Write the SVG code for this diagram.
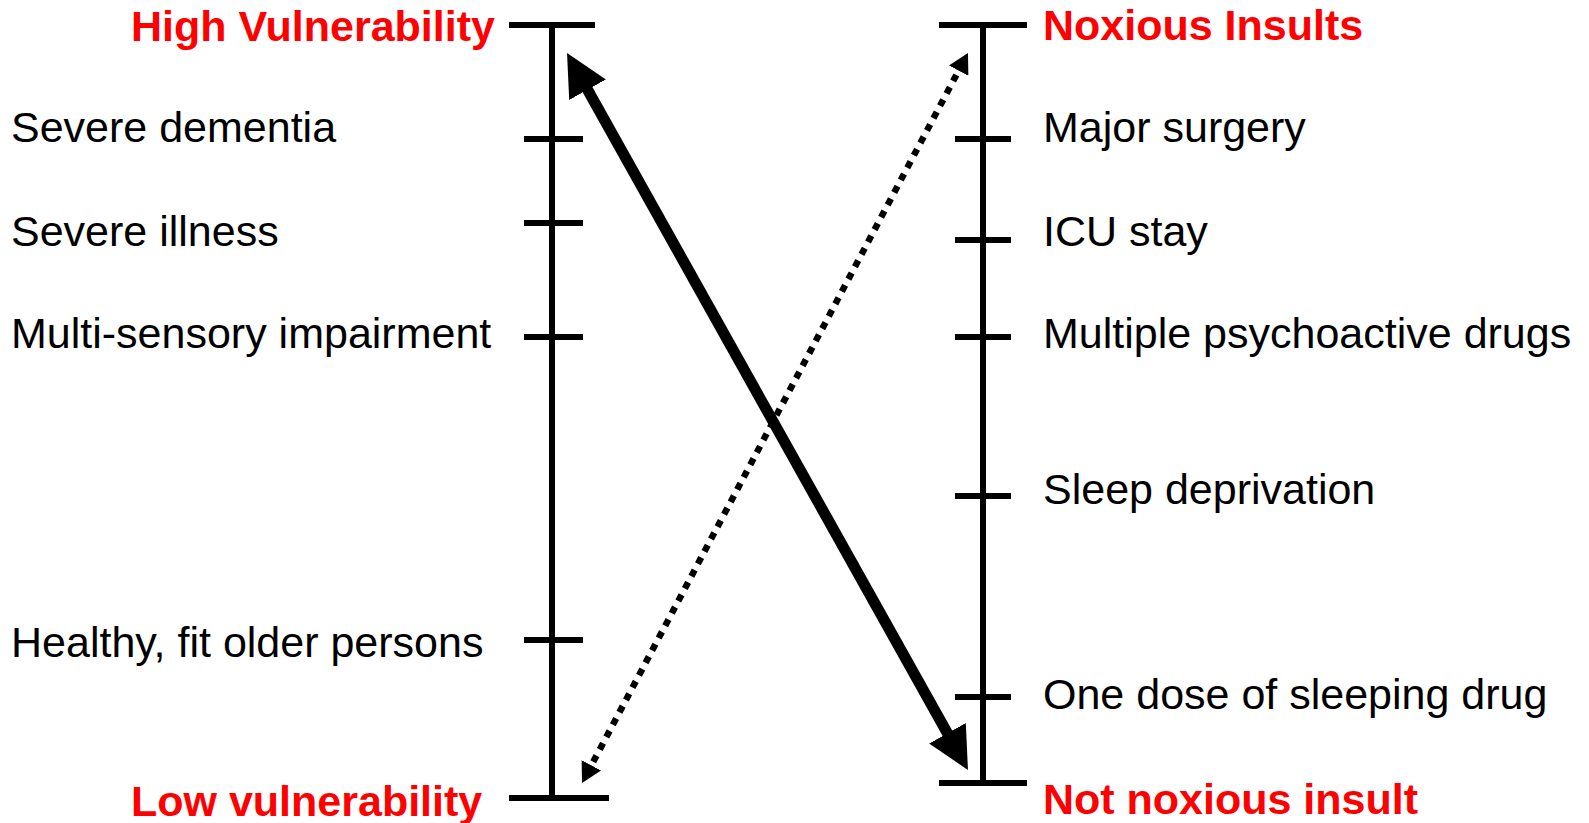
<svg xmlns="http://www.w3.org/2000/svg" width="1589" height="823" viewBox="0 0 1589 823">
<style>
.ax{stroke:#000;stroke-width:6;fill:none}
.lbl{font-family:"Liberation Sans",Arial,sans-serif;font-size:43px;fill:#000}
.hd{font-family:"Liberation Sans",Arial,sans-serif;font-size:43px;font-weight:bold;fill:#FF0000}
.thick{stroke:#000;stroke-width:11;fill:none}
.dot{stroke:#000;stroke-width:6.5;stroke-dasharray:7 7;fill:none}
</style>
<defs>
<marker id="bigHead" viewBox="0 0 42 42" markerWidth="42" markerHeight="42" refX="22" refY="21" markerUnits="userSpaceOnUse" orient="auto-start-reverse">
<path d="M0,0 L42,21 L0,42 z" fill="#000"/>
</marker>
<marker id="smallHead" viewBox="0 0 20 22" markerWidth="20" markerHeight="22" refX="10" refY="11" markerUnits="userSpaceOnUse" orient="auto-start-reverse">
<path d="M0,0 L20,11 L0,22 z" fill="#000"/>
</marker>
</defs>
<rect width="1589" height="823" fill="#fff"/>
<g id="vulnerability-scale">
<line class="ax" x1="552" y1="25" x2="552" y2="798"/>
<line class="ax" x1="509" y1="25" x2="595" y2="25"/>
<line class="ax" x1="509" y1="798" x2="609" y2="798"/>
<line class="ax" x1="524" y1="139" x2="583" y2="139"/>
<line class="ax" x1="524" y1="223" x2="583" y2="223"/>
<line class="ax" x1="524" y1="337" x2="583" y2="337"/>
<line class="ax" x1="524" y1="640" x2="583" y2="640"/>
<text class="hd" x="131" y="41">High Vulnerability</text>
<text class="lbl" x="11" y="142">Severe dementia</text>
<text class="lbl" x="11" y="246">Severe illness</text>
<text class="lbl" x="11" y="348">Multi-sensory impairment</text>
<text class="lbl" x="11" y="657">Healthy, fit older persons</text>
<text class="hd" x="131" y="816">Low vulnerability</text>
</g>
<g id="insult-scale">
<line class="ax" x1="983" y1="25" x2="983" y2="783"/>
<line class="ax" x1="939" y1="25" x2="1027" y2="25"/>
<line class="ax" x1="939" y1="783" x2="1027" y2="783"/>
<line class="ax" x1="955" y1="139" x2="1011" y2="139"/>
<line class="ax" x1="955" y1="240" x2="1011" y2="240"/>
<line class="ax" x1="955" y1="337" x2="1011" y2="337"/>
<line class="ax" x1="955" y1="496" x2="1011" y2="496"/>
<line class="ax" x1="955" y1="697" x2="1011" y2="697"/>
<text class="hd" x="1043" y="40">Noxious Insults</text>
<text class="lbl" x="1043" y="142">Major surgery</text>
<text class="lbl" x="1043" y="246">ICU stay</text>
<text class="lbl" x="1043" y="348">Multiple psychoactive drugs</text>
<text class="lbl" x="1043" y="504">Sleep deprivation</text>
<text class="lbl" x="1043" y="709">One dose of sleeping drug</text>
<text class="hd" x="1043" y="814">Not noxious insult</text>
</g>
<g id="connectors">
<line class="thick" x1="576.8" y1="70.5" x2="958.2" y2="752.5" marker-start="url(#bigHead)" marker-end="url(#bigHead)"/>
<line class="dot" x1="586.7" y1="774.2" x2="963.3" y2="61.8" marker-start="url(#smallHead)" marker-end="url(#smallHead)"/>
</g>
</svg>
